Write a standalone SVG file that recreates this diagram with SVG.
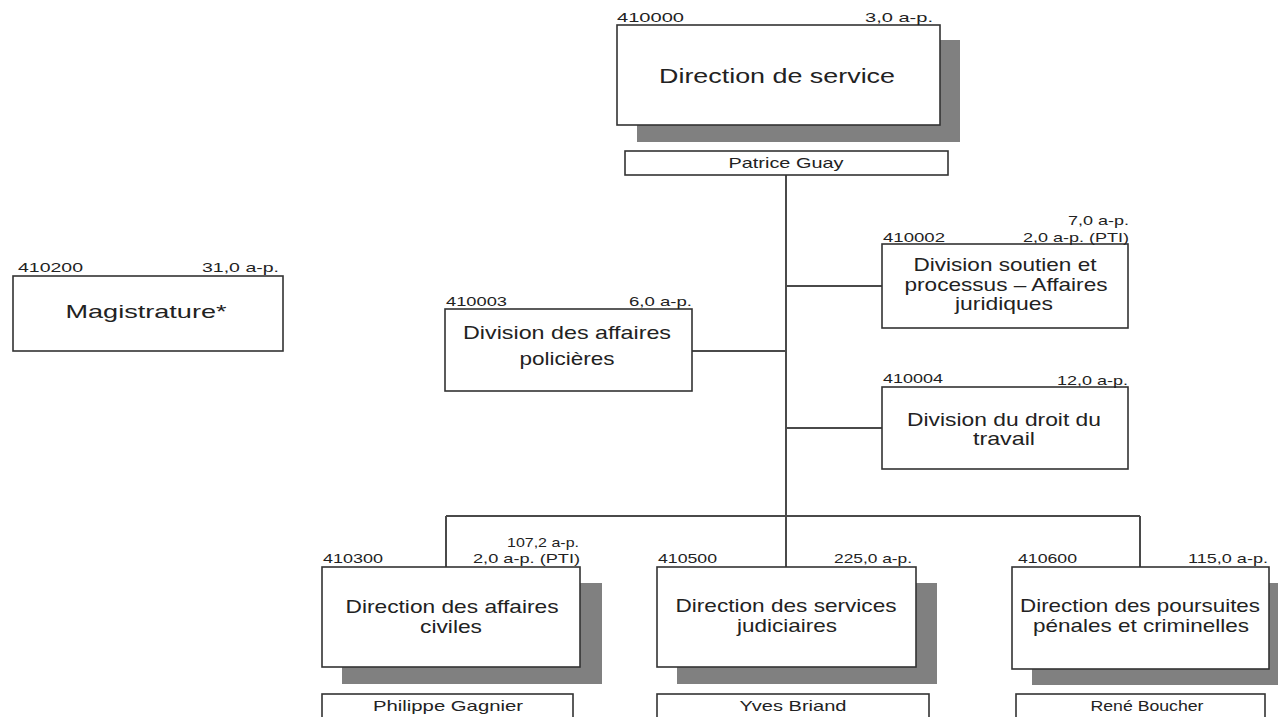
<svg xmlns="http://www.w3.org/2000/svg" width="1278" height="717" viewBox="0 0 1278 717">
<style>
text{font-family:"Liberation Sans",Arial,sans-serif;fill:#222}
.box{fill:#fff;stroke:#333;stroke-width:1.6}
.shadow{fill:#808080}
.sm{font-size:13.5px}
.md{font-size:19px}
.lg{font-size:20px}
.nm{font-size:15px}
.c{text-anchor:middle}
.r{text-anchor:end}
.conn line{stroke:#4a4a4a;stroke-width:2}
</style>
<rect width="1278" height="717" fill="#fff"/>
<g class="conn">
<line x1="786" y1="175" x2="786" y2="567"/>
<line x1="446" y1="516" x2="1140" y2="516"/>
<line x1="446" y1="516" x2="446" y2="567"/>
<line x1="1140" y1="516" x2="1140" y2="567"/>
<line x1="786" y1="286" x2="882" y2="286"/>
<line x1="692" y1="351" x2="786" y2="351"/>
<line x1="786" y1="428" x2="882" y2="428"/>
</g>
<g id="n410000">
<rect class="shadow" x="637" y="40" width="323" height="102"/>
<rect class="box" x="617" y="25" width="323" height="100"/>
<text class="sm" x="617" y="22" textLength="67" lengthAdjust="spacingAndGlyphs">410000</text>
<text class="sm r" x="933" y="22" textLength="68" lengthAdjust="spacingAndGlyphs">3,0 a-p.</text>
<text class="lg c" x="777" y="83" textLength="236" lengthAdjust="spacingAndGlyphs">Direction de service</text>
</g>
<g id="p410000">
<rect class="box" x="625" y="151" width="323" height="24"/>
<text class="nm c" x="786" y="168" textLength="115" lengthAdjust="spacingAndGlyphs">Patrice Guay</text>
</g>
<g id="n410200">
<rect class="box" x="13" y="276" width="270" height="75"/>
<text class="sm" x="18" y="272" textLength="65" lengthAdjust="spacingAndGlyphs">410200</text>
<text class="sm r" x="279" y="272" textLength="77" lengthAdjust="spacingAndGlyphs">31,0 a-p.</text>
<text class="md c" x="146" y="318" textLength="161" lengthAdjust="spacingAndGlyphs">Magistrature*</text>
</g>
<g id="n410003">
<rect class="box" x="445" y="309" width="247" height="82"/>
<text class="sm" x="446" y="306" textLength="61" lengthAdjust="spacingAndGlyphs">410003</text>
<text class="sm r" x="692" y="306" textLength="63" lengthAdjust="spacingAndGlyphs">6,0 a-p.</text>
<text class="md c" x="567" y="339" textLength="208" lengthAdjust="spacingAndGlyphs">Division des affaires</text>
<text class="md c" x="567" y="365" textLength="95" lengthAdjust="spacingAndGlyphs">policières</text>
</g>
<g id="n410002">
<rect class="box" x="882" y="244" width="246" height="84"/>
<text class="sm r" x="1129" y="225" textLength="61" lengthAdjust="spacingAndGlyphs">7,0 a-p.</text>
<text class="sm r" x="1129" y="242" textLength="106" lengthAdjust="spacingAndGlyphs">2,0 a-p. (PTI)</text>
<text class="sm" x="883" y="242" textLength="62" lengthAdjust="spacingAndGlyphs">410002</text>
<text class="md c" x="1005" y="271" textLength="183" lengthAdjust="spacingAndGlyphs">Division soutien et</text>
<text class="md c" x="1006" y="291" textLength="203" lengthAdjust="spacingAndGlyphs">processus – Affaires</text>
<text class="md c" x="1004" y="310" textLength="98" lengthAdjust="spacingAndGlyphs">juridiques</text>
</g>
<g id="n410004">
<rect class="box" x="882" y="387" width="246" height="82"/>
<text class="sm" x="883" y="383" textLength="60" lengthAdjust="spacingAndGlyphs">410004</text>
<text class="sm r" x="1128" y="385" textLength="71" lengthAdjust="spacingAndGlyphs">12,0 a-p.</text>
<text class="md c" x="1004" y="426" textLength="194" lengthAdjust="spacingAndGlyphs">Division du droit du</text>
<text class="md c" x="1004" y="445" textLength="62" lengthAdjust="spacingAndGlyphs">travail</text>
</g>
<g id="n410300">
<rect class="shadow" x="342" y="583" width="260" height="101"/>
<rect class="box" x="322" y="567" width="258" height="100"/>
<text class="sm r" x="579" y="547" textLength="72" lengthAdjust="spacingAndGlyphs">107,2 a-p.</text>
<text class="sm r" x="580" y="563" textLength="107" lengthAdjust="spacingAndGlyphs">2,0 a-p. (PTI)</text>
<text class="sm" x="323" y="563" textLength="60" lengthAdjust="spacingAndGlyphs">410300</text>
<text class="md c" x="452" y="613" textLength="213" lengthAdjust="spacingAndGlyphs">Direction des affaires</text>
<text class="md c" x="451" y="633" textLength="62" lengthAdjust="spacingAndGlyphs">civiles</text>
</g>
<g id="p410300">
<rect class="box" x="322" y="694" width="251" height="30"/>
<text class="nm c" x="448" y="711" textLength="150" lengthAdjust="spacingAndGlyphs">Philippe Gagnier</text>
</g>
<g id="n410500">
<rect class="shadow" x="677" y="583" width="260" height="101"/>
<rect class="box" x="657" y="567" width="259" height="100"/>
<text class="sm" x="658" y="563" textLength="59" lengthAdjust="spacingAndGlyphs">410500</text>
<text class="sm r" x="912" y="563" textLength="78" lengthAdjust="spacingAndGlyphs">225,0 a-p.</text>
<text class="md c" x="786" y="612" textLength="221" lengthAdjust="spacingAndGlyphs">Direction des services</text>
<text class="md c" x="787" y="632" textLength="100" lengthAdjust="spacingAndGlyphs">judiciaires</text>
</g>
<g id="p410500">
<rect class="box" x="657" y="694" width="272" height="30"/>
<text class="nm c" x="793" y="711" textLength="107" lengthAdjust="spacingAndGlyphs">Yves Briand</text>
</g>
<g id="n410600">
<rect class="shadow" x="1032" y="583" width="260" height="102"/>
<rect class="box" x="1012" y="567" width="257" height="102"/>
<text class="sm" x="1018" y="563" textLength="59" lengthAdjust="spacingAndGlyphs">410600</text>
<text class="sm r" x="1268" y="563" textLength="80" lengthAdjust="spacingAndGlyphs">115,0 a-p.</text>
<text class="md c" x="1140" y="612" textLength="240" lengthAdjust="spacingAndGlyphs">Direction des poursuites</text>
<text class="md c" x="1141" y="632" textLength="216" lengthAdjust="spacingAndGlyphs">pénales et criminelles</text>
</g>
<g id="p410600">
<rect class="box" x="1016" y="694" width="249" height="30"/>
<text class="nm c" x="1147" y="711" textLength="113" lengthAdjust="spacingAndGlyphs">René Boucher</text>
</g>
</svg>
